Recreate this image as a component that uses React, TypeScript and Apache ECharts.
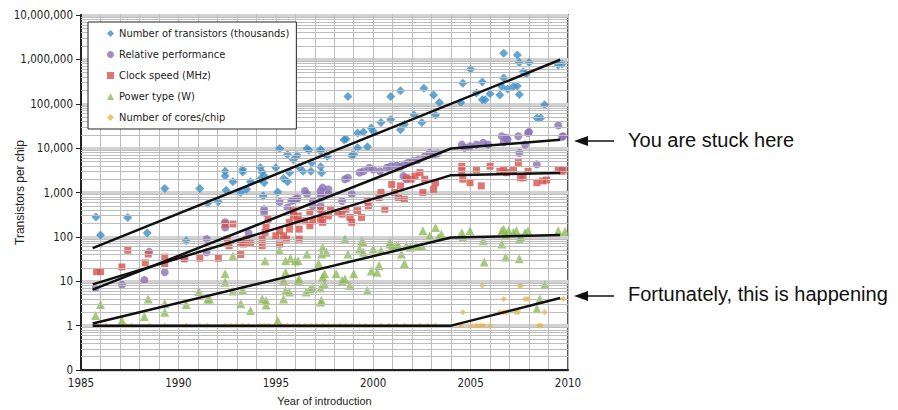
import React, { useEffect, useRef } from "react";
import * as echarts from "echarts";

// ---- data (x = year, y = value) ----
const transistors: number[][] = [
  [1985.77, 280], [1986.0, 110], [1987.4, 275], [1988.4, 122], [1989.3, 1230], [1990.4, 82],
  [1991.1, 1230], [1991.5, 575], [1992.05, 615], [1992.4, 3000], [1992.4, 2340], [1992.45, 1120],
  [1992.8, 1750], [1993.3, 3300], [1993.3, 2880], [1993.2, 1000], [1993.5, 1180], [1993.7, 1750],
  [1994.2, 3660], [1994.3, 2880], [1994.4, 2340], [1994.2, 1990], [1994.4, 1660], [1994.35, 835],
  [1995.0, 3600], [1995.1, 1030], [1995.2, 9800], [1995.4, 2080], [1995.6, 1750], [1995.7, 2800],
  [1995.6, 7200], [1995.9, 5500], [1996.1, 6800], [1996.2, 3700], [1996.4, 3000], [1996.6, 9800],
  [1996.7, 8900], [1996.8, 3000], [1996.85, 4700], [1997.3, 9300], [1997.3, 3800], [1997.35, 2800],
  [1997.6, 6800], [1997.3, 8500], [1997.65, 6600], [1998.5, 15500], [1998.6, 16000], [1998.7, 146000],
  [1998.9, 6800], [1999.0, 7200], [1999.2, 22000], [1999.2, 10200], [1999.5, 23000], [1999.7, 10700],
  [1999.9, 28500], [2000.0, 24000], [2000.4, 38000], [2000.9, 146000], [2000.9, 44000], [2001.4, 196000],
  [2001.4, 26000], [2001.6, 34000], [2002.1, 56000], [2002.5, 38000], [2002.6, 224000], [2003.1, 158000],
  [2003.2, 56000], [2003.4, 107000], [2004.5, 107000], [2004.6, 290000], [2005.0, 600000], [2005.3, 174000],
  [2005.6, 310000], [2005.6, 123000], [2005.75, 123000], [2006.0, 167000], [2006.5, 158000], [2006.7, 1380000],
  [2006.7, 380000], [2006.6, 245000], [2006.9, 214000], [2007.2, 245000], [2007.4, 252000], [2007.4, 1260000],
  [2007.5, 850000], [2007.5, 162000], [2007.7, 525000], [2007.85, 470000], [2008.0, 850000], [2008.8, 95000],
  [2008.4, 48000], [2008.6, 48000], [2009.5, 745000], [2009.7, 790000]
];

const performance: number[][] = [
  [1985.75, 7], [1987.1, 8.3], [1988.25, 10.7], [1988.5, 46], [1989.3, 16], [1990.3, 33], [1991.45, 45],
  [1991.45, 89], [1992.4, 213], [1992.4, 163], [1993.6, 122], [1994.4, 420], [1994.4, 355], [1995.2, 615],
  [1995.6, 460], [1995.8, 650], [1995.9, 670], [1996.1, 770], [1996.1, 705], [1996.5, 1080], [1996.6, 910],
  [1996.9, 645], [1996.9, 500], [1997.3, 835], [1997.3, 1080], [1997.3, 500], [1997.35, 770], [1997.4, 1290],
  [1997.7, 1180], [1997.7, 910], [1998.4, 645], [1998.55, 1990], [1998.7, 2150], [1998.9, 910],
  [1999.3, 2800], [1999.5, 3000], [1999.8, 3600], [2000.0, 3300], [2000.35, 3000], [2000.7, 3600],
  [2000.9, 3900], [2001.2, 4050], [2001.4, 3800], [2001.55, 2340], [2001.6, 4300], [2001.7, 1990],
  [2001.8, 4700], [2002.05, 5100], [2002.3, 5400], [2002.65, 6600], [2002.9, 7800], [2003.1, 7200],
  [2003.3, 7600], [2004.55, 12000], [2004.7, 10200], [2004.97, 11000], [2005.3, 12000], [2005.65, 13200],
  [2005.9, 12000], [2006.6, 18500], [2006.7, 13500], [2006.85, 17000], [2006.9, 15500], [2007.45, 18500],
  [2007.5, 7800], [2007.8, 12000], [2007.95, 22000], [2008.0, 23000], [2008.4, 4300], [2009.5, 32500],
  [2009.7, 18000], [2009.75, 18500]
];

const clock: number[][] = [
  [1985.8, 16.5], [1986.0, 16.5], [1987.1, 21], [1987.4, 50], [1988.3, 26], [1988.45, 41], [1989.3, 35],
  [1989.3, 25], [1990.3, 32], [1991.1, 33], [1992.05, 33], [1993.2, 40], [1992.4, 195], [1992.8, 195],
  [1992.5, 89], [1992.6, 63], [1993.2, 75], [1993.35, 69], [1993.5, 89], [1993.7, 75], [1994.3, 63],
  [1994.3, 89], [1994.45, 126], [1994.5, 178], [1994.6, 251], [1995.0, 106], [1995.2, 69], [1995.2, 137],
  [1995.4, 106], [1995.55, 89], [1995.7, 149], [1995.7, 213], [1995.9, 297], [1995.9, 390], [1996.1, 230],
  [1996.15, 297], [1996.2, 149], [1996.2, 89], [1996.5, 230], [1996.75, 178], [1996.75, 355], [1996.9, 230],
  [1997.3, 251], [1997.3, 420], [1997.4, 213], [1997.4, 325], [1997.7, 297], [1997.8, 420], [1998.2, 355],
  [1998.4, 325], [1998.6, 420], [1998.8, 275], [1998.9, 213], [1999.2, 390], [1999.4, 275], [1999.7, 645],
  [1999.75, 500], [2000.3, 770], [2000.4, 1000], [2000.6, 420], [2000.95, 1520], [2001.1, 1000],
  [2001.3, 770], [2001.4, 1410], [2001.6, 705], [2001.7, 2150], [2001.95, 1990], [2002.15, 2340],
  [2002.4, 2800], [2002.55, 1000], [2002.65, 1990], [2003.1, 1180], [2003.2, 1660], [2004.55, 3900],
  [2004.55, 3000], [2004.6, 1990], [2004.97, 1660], [2005.3, 3300], [2005.55, 1410], [2006.0, 3900],
  [2006.5, 3000], [2006.7, 3300], [2006.85, 2800], [2007.2, 3300], [2007.45, 4700], [2007.55, 2150],
  [2007.7, 2150], [2007.95, 3000], [2008.4, 1660], [2008.7, 1820], [2008.9, 1910], [2009.5, 3300],
  [2009.7, 3000], [2009.75, 3300]
];

const power: number[][] = [
  [1985.75, 1.7], [1986.0, 3.0], [1987.1, 1.3], [1988.25, 1.6], [1988.45, 4.0], [1989.3, 2.0], [1989.3, 3.1],
  [1990.4, 3.0], [1991.05, 5.9], [1991.5, 4.0], [1991.6, 4.0], [1992.4, 14.7], [1992.4, 9.5], [1992.8, 37],
  [1992.8, 6.0], [1993.2, 3.1], [1993.3, 6.4], [1993.7, 2.2], [1994.45, 29], [1994.3, 4.0], [1994.5, 3.7],
  [1994.5, 2.9], [1995.2, 49], [1995.5, 29], [1995.75, 33], [1996.0, 29], [1996.15, 29], [1995.1, 1.3],
  [1995.5, 16], [1995.4, 10.4], [1995.5, 6.2], [1995.7, 5.7], [1995.4, 4.0], [1996.15, 10.4], [1996.2, 11.3],
  [1996.6, 41], [1996.55, 5.7], [1996.75, 6.7], [1996.9, 7.0], [1997.2, 25], [1997.3, 7.0], [1997.3, 3.4],
  [1997.4, 12.4], [1997.6, 45], [1997.4, 58], [1997.35, 41], [1997.5, 14.7], [1997.5, 8.7], [1997.35, 3.7],
  [1998.1, 14.7], [1998.4, 10.4], [1998.55, 11.3], [1998.7, 41], [1998.8, 8.0], [1999.0, 14.7], [1999.3, 53],
  [1999.4, 81], [1999.5, 45], [1999.7, 6.2], [1999.9, 17], [2000.2, 16], [2000.3, 22.5], [2000.4, 49],
  [2000.85, 75], [2001.0, 63], [2001.3, 63], [2001.45, 41], [2001.6, 25], [2001.9, 58], [2002.2, 63],
  [2002.5, 63], [1998.55, 89], [1999.5, 75], [2000.0, 53], [2000.85, 69], [2001.2, 63], [2001.7, 63],
  [2002.55, 137], [2002.9, 106], [2003.2, 163], [2003.35, 97], [2003.5, 115], [2004.55, 126], [2004.97, 137],
  [2004.6, 97], [2005.65, 82], [2005.7, 27], [2006.6, 137], [2006.7, 149], [2006.8, 115], [2006.95, 137],
  [2007.2, 126], [2007.35, 137], [2007.5, 89], [2007.6, 97], [2007.8, 126], [2007.95, 137], [2006.6, 69],
  [2006.8, 35], [2007.5, 32], [2009.5, 137], [2009.85, 132], [2008.8, 8.3], [2008.55, 4.0], [2008.4, 2.4]
];

const cores: number[][] = [
  [1985.8, 1], [1986.3, 1], [1987.3, 1], [1987.6, 1], [1988.5, 1], [1989.3, 1], [1990.4, 1], [1991.1, 1],
  [1991.5, 1], [1992.4, 1], [1992.7, 1], [1993.0, 1], [1993.3, 1], [1993.6, 1], [1994.2, 1], [1994.4, 1],
  [1994.6, 1], [1995.0, 1], [1995.3, 1], [1995.6, 1], [1995.9, 1], [1996.2, 1], [1996.5, 1], [1996.8, 1],
  [1997.1, 1], [1997.4, 1], [1997.7, 1], [1998.0, 1], [1998.3, 1], [1998.6, 1], [1998.9, 1], [1999.3, 1],
  [1999.6, 1], [2000.0, 1], [2000.4, 1], [2000.8, 1], [2001.2, 1], [2001.6, 1], [2002.0, 1], [2002.4, 1],
  [2002.8, 1], [2003.2, 1], [2004.6, 2], [2004.5, 1], [2005.0, 1], [2005.3, 1], [2005.5, 1], [2005.65, 1],
  [2006.0, 1], [2005.6, 8], [2006.7, 4], [2006.5, 2], [2006.7, 2], [2006.85, 2], [2007.3, 2], [2007.45, 2],
  [2007.5, 8], [2007.6, 8], [2007.8, 4], [2007.95, 4], [2008.5, 1], [2008.6, 1], [2008.8, 2], [2009.75, 4]
];

// trend lines
const transistorTrend: number[][] = [[1985.6, 56], [2009.6, 980000]];
const performanceTrend: number[][] = [[1985.6, 6.5], [2004.0, 9800], [2009.6, 15500]];
const clockTrend: number[][] = [[1985.6, 8.5], [2004.0, 2460], [2009.6, 2750]];
const powerTrend: number[][] = [[1985.6, 1.12], [2004.0, 97], [2009.6, 110]];
const coresTrend: number[][] = [[1985.6, 1], [2004.0, 1], [2009.6, 4.2]];

const seriesNames = [
  "Number of transistors (thousands)",
  "Relative performance",
  "Clock speed (MHz)",
  "Power type (W)",
  "Number of cores/chip",
];
const seriesColors = ["#3d8ec6", "#8a72b6", "#d9534f", "#8dbb58", "#f4b43a"];
const seriesSymbols = ["diamond", "circle", "rect", "triangle", "diamond"];
const seriesSizes = [9, 8, 7, 9, 6];

const minorMultipliers = [2, 3, 4, 5, 6, 7, 8, 9];
const decades = [0.1, 1, 10, 100, 1000, 10000, 100000, 1000000];

const COND = '"DejaVu Sans Condensed", "Liberation Sans", sans-serif';
const SANS = '"Liberation Sans", Arial, sans-serif';

export default function App() {
  const ref = useRef<HTMLDivElement>(null);
  useEffect(() => {
    if (!ref.current) return;
    const chart = echarts.init(ref.current, undefined, { renderer: "svg" });
    const minorLines: any[] = [];
    decades.forEach((d) => minorMultipliers.forEach((m) => minorLines.push({ yAxis: d * m })));

    const scatterData = [transistors, performance, clock, power, cores];
    const trends = [transistorTrend, performanceTrend, clockTrend, powerTrend, coresTrend];

    const series: any[] = [];
    series.push({
      type: "line",
      data: [],
      silent: true,
      z: 1,
      markLine: {
        silent: true,
        symbol: "none",
        label: { show: false },
        lineStyle: { color: "#bdbdbd", width: 1, type: "solid" },
        data: minorLines,
      },
    });
    scatterData.forEach((d, i) => {
      series.push({
        name: seriesNames[i],
        type: "scatter",
        data: d,
        symbol: seriesSymbols[i],
        symbolSize: seriesSizes[i],
        itemStyle: { color: seriesColors[i] },
        z: 3,
      });
    });
    trends.forEach((t) => {
      series.push({
        type: "line",
        data: t,
        symbol: "none",
        silent: true,
        lineStyle: { color: "#111", width: 2.5 },
        z: 5,
      });
    });

    chart.setOption({
      animation: false,
      backgroundColor: "#fff",
      grid: {
        left: 81, right: 330, top: 15, bottom: 40,
        containLabel: false,
        outerBoundsMode: "none",
        show: true, borderColor: "#222", borderWidth: 1.5,
      },
      legend: {
        data: seriesNames.map((n, i) => ({ name: n, icon: seriesSymbols[i] })),
        orient: "vertical",
        left: 88, top: 22,
        z: 20,
        itemWidth: 7, itemHeight: 7, itemGap: 8,
        padding: [5, 7, 5, 19],
        backgroundColor: "#fff",
        borderColor: "#222", borderWidth: 1,
        textStyle: { fontFamily: COND, fontSize: 11, lineHeight: 13, color: "#222" },
      },
      xAxis: {
        type: "value",
        min: 1985, max: 2010, interval: 1,
        name: "Year of introduction",
        nameLocation: "middle", nameGap: 25,
        nameMoveOverlap: false,
        nameTextStyle: { fontFamily: SANS, fontSize: 11, color: "#222" },
        axisLine: { lineStyle: { color: "#222", width: 2 } },
        axisTick: { show: false },
        axisLabel: {
          fontFamily: COND, fontSize: 11.5, color: "#222", margin: 7,
          formatter: (v: number) => (v % 5 === 0 ? String(v) : ""),
        },
        splitLine: { show: true, lineStyle: { color: "#bdbdbd", width: 1 } },
      },
      yAxis: {
        type: "log",
        logBase: 10,
        min: 0.1, max: 10000000, interval: 1,
        name: "Transistors per chip",
        nameLocation: "middle", nameGap: 55,
        nameMoveOverlap: false,
        nameTextStyle: { fontFamily: SANS, fontSize: 12, color: "#222" },
        axisLine: { show: true, lineStyle: { color: "#222", width: 2 } },
        axisTick: { show: true, length: 5, lineStyle: { color: "#222" } },
        axisLabel: {
          fontFamily: COND, fontSize: 11.5, color: "#222", margin: 8,
          formatter: (v: number) => (v < 0.5 ? "0" : Math.round(v).toLocaleString("en-US")),
        },
        splitLine: { show: true, lineStyle: { color: "#d2d2d2", width: 3 } },
      },
      graphic: [
        {
          type: "text", left: 628, top: 130,
          style: { text: "You are stuck here", font: '20px "Liberation Sans", Arial, sans-serif', fill: "#111" },
        },
        {
          type: "text", left: 628, top: 284,
          style: { text: "Fortunately, this is happening", font: '20px "Liberation Sans", Arial, sans-serif', fill: "#111" },
        },
        { type: "line", shape: { x1: 586, y1: 141, x2: 614, y2: 141 }, style: { stroke: "#111", lineWidth: 1.5 } },
        { type: "polygon", shape: { points: [[574, 141], [588, 136], [588, 146]] }, style: { fill: "#111" } },
        { type: "line", shape: { x1: 586, y1: 296, x2: 614, y2: 296 }, style: { stroke: "#111", lineWidth: 1.5 } },
        { type: "polygon", shape: { points: [[574, 296], [588, 291], [588, 301]] }, style: { fill: "#111" } },
      ],
      series,
    });
    return () => chart.dispose();
  }, []);
  return <div ref={ref} style={{ position: "absolute", left: 0, top: 0, width: 898, height: 410 }} />;
}
